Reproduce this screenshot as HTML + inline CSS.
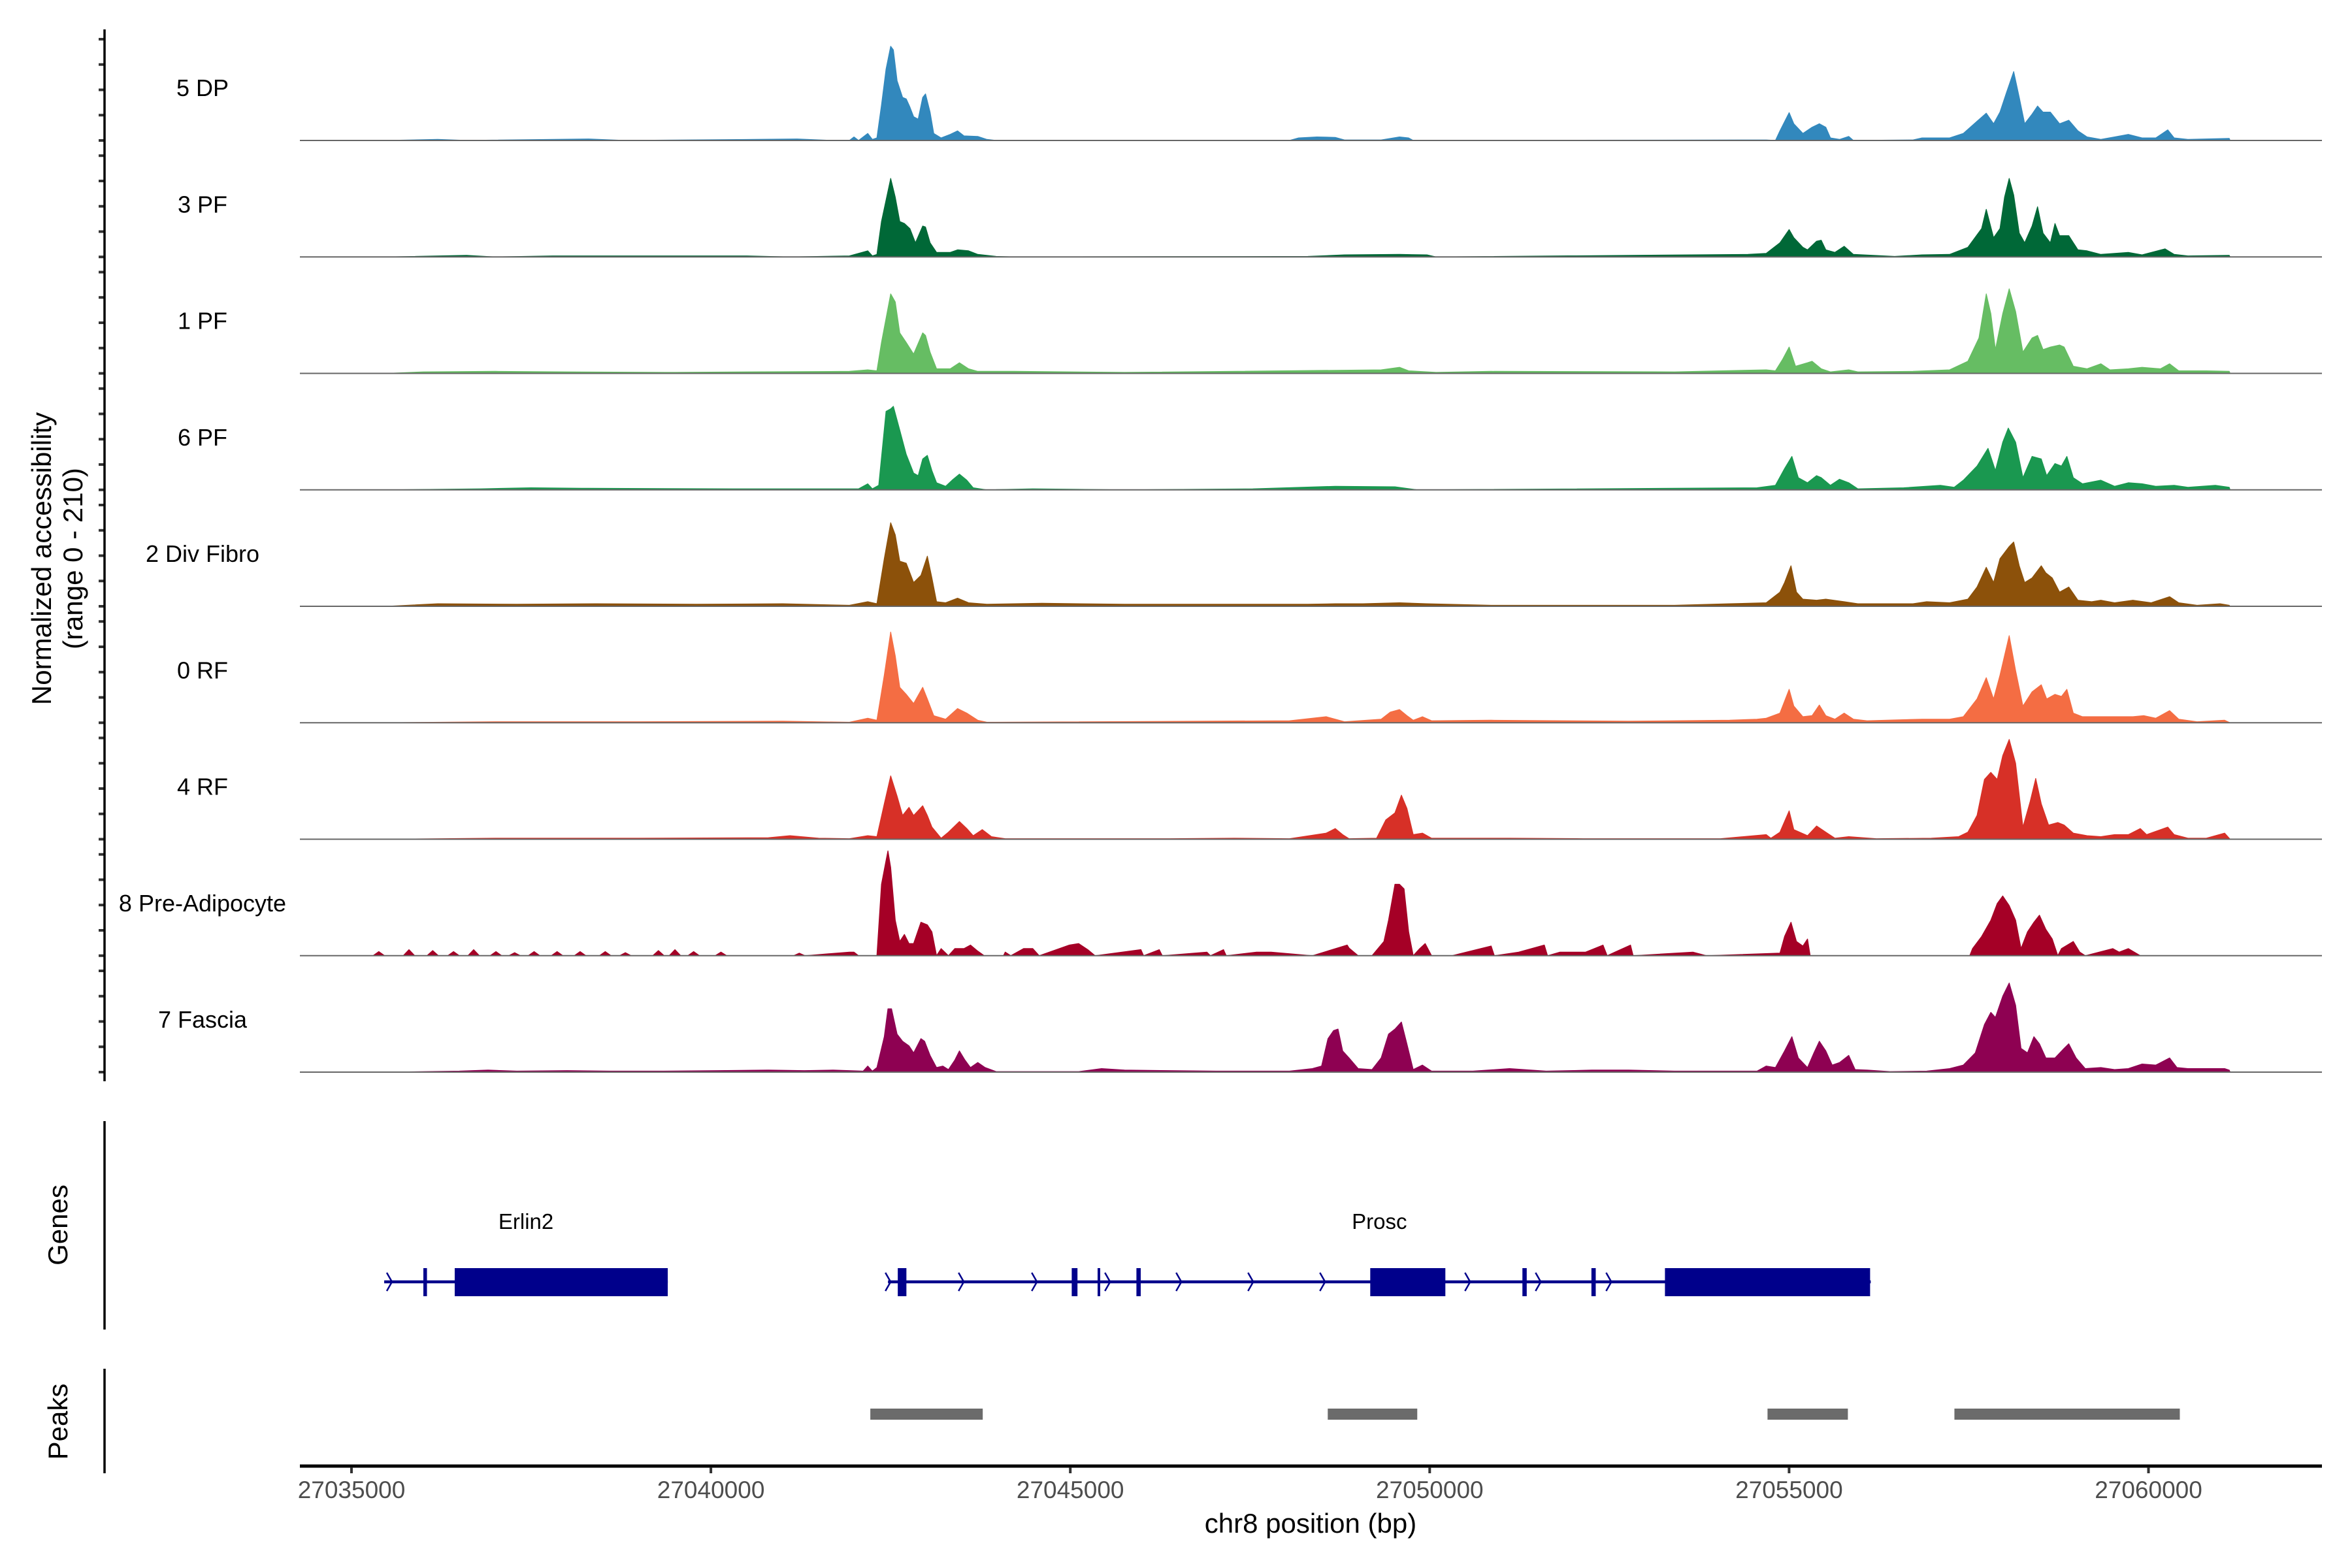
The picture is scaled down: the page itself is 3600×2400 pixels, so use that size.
<!DOCTYPE html>
<html><head><meta charset="utf-8"><style>
html,body{margin:0;padding:0;background:#fff;}
svg{display:block;font-family:"Liberation Sans",Arial,sans-serif;}
</style></head><body>
<svg id="chart" width="3600" height="2400" viewBox="0 0 3600 2400" xmlns="http://www.w3.org/2000/svg">
<g id="tracks"></g>
<g id="genes"></g>
<g id="peaks"></g>
<g id="axes"></g>
</svg>
<script>
const trackNames = ["5 DP","3 PF","1 PF","6 PF","2 Div Fibro","0 RF","4 RF","8 Pre-Adipocyte","7 Fascia"];
const yTicks = [0,50,100,150,200];
const xTicks = [27035000,27040000,27045000,27050000,27055000,27060000];

const pos_5DP = [27035500,27036200,27036600,27038300,27038800,27040600,27041200,27041700,27041927,27041991,27042055,27042182,27042246,27042310,27042373,27042437,27042501,27042539,27042590,27042667,27042718,27042769,27042820,27042884,27042947,27042986,27043049,27043100,27043203,27043330,27043432,27043521,27043713,27043840,27043968,27048049,27048177,27048432,27048687,27048815,27049325,27049580,27049707,27049771,27054682,27054810,27054873,27055001,27055065,27055192,27055320,27055421,27055511,27055575,27055702,27055830,27055894,27056723,27056850,27057233,27057424,27057615,27057743,27057845,27057934,27058023,27058125,27058202,27058278,27058380,27058457,27058533,27058635,27058763,27058891,27059018,27059146,27059337,27059528,27059719,27059911,27060102,27060268,27060357,27060549,27061123,27061135];
const val_5DP = [0,2,0,3,0,2,3,0,0,7,0,14,2,5,70,141,186,179,118,85,82,66,47,42,85,92,56,14,5,12,19,9,8,2,0,0,5,7,6,1,1,7,5,0,1,0,19,55,33,14,26,33,26,5,2,8,0,1,5,5,14,38,54,33,56,94,136,85,33,52,68,56,56,33,40,19,7,2,7,12,5,5,21,5,2,4,0];

const pos_3PF = [27035500,27036600,27037000,27037800,27040500,27041100,27041927,27042182,27042246,27042310,27042373,27042501,27042565,27042628,27042692,27042769,27042846,27042947,27042986,27043049,27043139,27043330,27043432,27043585,27043713,27043968,27044223,27048305,27048815,27049580,27049962,27050090,27054427,27054682,27054873,27055001,27055065,27055192,27055256,27055383,27055447,27055511,27055638,27055766,27055894,27056468,27056850,27057233,27057488,27057679,27057743,27057845,27057934,27057998,27058062,27058125,27058202,27058278,27058380,27058457,27058533,27058635,27058699,27058763,27058891,27059018,27059146,27059337,27059719,27059911,27060230,27060357,27060549,27061123,27061135];
const val_3PF = [0,3,0,2,2,0,2,12,2,5,70,155,118,70,66,56,28,61,59,28,9,9,14,12,5,1,0,1,4,5,4,0,5,7,28,54,38,19,14,31,33,14,9,21,5,1,4,5,19,56,94,38,56,118,155,122,47,28,61,99,47,28,66,42,42,14,12,5,9,4,16,5,2,3,0];

const pos_1PF = [27035500,27036000,27037000,27038000,27039500,27040500,27041927,27042182,27042310,27042373,27042501,27042565,27042628,27042718,27042820,27042947,27042986,27043049,27043139,27043330,27043458,27043585,27043713,27044223,27045754,27049325,27049580,27049707,27050090,27050855,27053406,27054682,27054810,27054911,27055001,27055090,27055256,27055320,27055447,27055575,27055830,27055957,27056723,27057233,27057488,27057641,27057743,27057807,27057870,27057972,27058062,27058151,27058253,27058380,27058457,27058533,27058635,27058763,27058827,27058954,27059146,27059337,27059465,27059719,27059911,27060166,27060294,27060421,27060804,27061123,27061135];
const val_1PF = [0,3,4,3,2,3,4,7,5,61,157,141,80,61,38,80,75,42,9,9,21,9,4,4,2,7,12,5,2,4,3,7,5,28,52,14,21,24,9,3,7,3,4,7,24,70,157,118,47,118,167,122,42,70,75,47,52,56,52,14,9,19,7,9,12,9,19,5,5,4,0];

const pos_6PF = [27035500,27036800,27037500,27038300,27040300,27041927,27042055,27042182,27042246,27042335,27042437,27042501,27042539,27042628,27042718,27042820,27042884,27042947,27043011,27043075,27043139,27043266,27043356,27043458,27043560,27043649,27043840,27044478,27045754,27047539,27048687,27049516,27049835,27054554,27054810,27054937,27055039,27055128,27055256,27055383,27055447,27055575,27055702,27055830,27055957,27056595,27057105,27057297,27057424,27057615,27057768,27057870,27057972,27058049,27058151,27058253,27058380,27058508,27058584,27058699,27058789,27058865,27058954,27059082,27059337,27059528,27059719,27059911,27060102,27060357,27060549,27060931,27061123,27061135];
const val_6PF = [0,2,4,3,2,2,2,12,2,9,155,160,165,118,70,33,28,61,68,38,14,7,19,31,19,4,0,2,0,2,7,6,0,4,9,42,66,24,14,28,24,9,21,14,2,4,9,5,19,47,82,38,94,122,94,24,66,61,28,52,47,66,24,12,19,7,14,12,7,9,5,9,5,0];

const pos_DivFibro = [27035500,27036200,27037300,27038400,27039800,27041000,27041927,27042182,27042310,27042412,27042501,27042565,27042628,27042718,27042820,27042922,27043011,27043075,27043139,27043266,27043432,27043585,27043840,27044605,27045754,27048305,27048687,27049070,27049580,27049962,27050855,27053406,27054172,27054682,27054873,27054937,27055026,27055103,27055192,27055383,27055511,27055766,27055957,27056723,27056914,27057233,27057488,27057615,27057743,27057845,27057934,27058062,27058125,27058202,27058278,27058380,27058508,27058572,27058661,27058763,27058891,27059018,27059210,27059337,27059528,27059783,27060038,27060294,27060421,27060676,27060995,27061123,27061135];
const val_DivFibro = [0,5,4,5,4,5,2,9,5,94,165,141,89,85,47,61,99,56,9,7,16,7,4,6,4,4,5,5,7,5,2,2,5,7,28,47,80,28,14,12,14,9,5,5,9,7,14,38,77,47,94,118,127,80,47,56,80,66,56,28,38,12,9,12,7,12,7,19,7,2,5,2,0];

const pos_0RF = [27035500,27037000,27039000,27041000,27041927,27042182,27042310,27042412,27042501,27042565,27042628,27042718,27042820,27042947,27043011,27043100,27043266,27043432,27043560,27043713,27043840,27048049,27048560,27048687,27048815,27049325,27049452,27049580,27049683,27049771,27049899,27050026,27050855,27052769,27054172,27054554,27054682,27054873,27055001,27055065,27055192,27055320,27055421,27055511,27055638,27055766,27055894,27056085,27056850,27057233,27057424,27057615,27057743,27057845,27057934,27058062,27058151,27058253,27058380,27058508,27058584,27058699,27058789,27058865,27058954,27059082,27059401,27059783,27059937,27060102,27060294,27060421,27060676,27061059,27061135];
const val_0RF = [0,2,2,3,1,9,5,94,179,132,70,56,38,70,47,14,7,28,19,5,1,4,12,7,2,7,21,26,14,5,12,4,5,3,5,7,9,19,66,33,12,14,35,14,7,19,7,4,7,7,12,47,89,47,94,172,103,33,61,75,47,56,52,66,19,12,12,12,14,9,24,7,2,5,0];

const pos_4RF = [27035500,27037000,27039000,27040800,27041100,27041500,27041927,27042182,27042310,27042412,27042501,27042590,27042667,27042756,27042820,27042947,27043011,27043075,27043203,27043305,27043458,27043560,27043649,27043776,27043904,27044095,27046391,27047284,27048049,27048560,27048687,27048789,27048878,27049261,27049389,27049516,27049606,27049683,27049771,27049899,27050026,27050855,27051111,27052131,27054044,27054682,27054746,27054873,27055001,27055065,27055256,27055383,27055511,27055638,27055830,27056213,27056978,27057360,27057488,27057615,27057718,27057807,27057896,27057972,27058062,27058151,27058253,27058355,27058431,27058508,27058610,27058738,27058827,27058954,27059146,27059337,27059528,27059719,27059886,27059975,27060268,27060357,27060549,27060804,27061059,27061123,27061135];
const val_4RF = [0,2,2,3,7,2,1,7,5,70,125,85,47,63,47,66,47,24,2,14,35,21,7,19,5,1,1,2,1,12,21,9,1,2,38,52,87,61,9,12,2,2,2,1,1,9,2,14,56,19,7,26,14,2,5,1,2,5,14,47,118,132,118,165,197,150,24,75,120,70,28,33,28,12,7,5,9,9,21,9,24,9,2,2,12,2,0];

const pos_PreAdip = [27035300,27035380,27035460,27035720,27035800,27035880,27036050,27036130,27036210,27036340,27036420,27036500,27036620,27036700,27036780,27036930,27037010,27037090,27037190,27037270,27037350,27037460,27037540,27037620,27037780,27037860,27037940,27038100,27038180,27038260,27038450,27038530,27038610,27038730,27038810,27038890,27039190,27039270,27039350,27039420,27039500,27039580,27039680,27039760,27039840,27040060,27040140,27040220,27041150,27041230,27041310,27041927,27041991,27042055,27042310,27042373,27042437,27042463,27042501,27042565,27042628,27042692,27042756,27042820,27042922,27043011,27043075,27043139,27043203,27043305,27043394,27043521,27043611,27043713,27043802,27044070,27044095,27044172,27044350,27044478,27044567,27044988,27045116,27045243,27045345,27045983,27046020,27046238,27046280,27046901,27046950,27047131,27047170,27047590,27047794,27048368,27048853,27048878,27049006,27049197,27049363,27049427,27049516,27049580,27049644,27049707,27049771,27049861,27049937,27050026,27050307,27050855,27050900,27051238,27051595,27051640,27051812,27052169,27052411,27052470,27052577,27052794,27052830,27053662,27053853,27054873,27054937,27055026,27055103,27055192,27055256,27055294,27057513,27057552,27057679,27057807,27057896,27057972,27058062,27058151,27058227,27058317,27058406,27058483,27058572,27058661,27058738,27058789,27058954,27059044,27059120,27059503,27059592,27059719,27059886,27060013];
const val_PreAdip = [0,8,0,0,12,0,0,10,0,0,8,0,0,12,0,0,8,0,0,6,0,0,8,0,0,8,0,0,8,0,0,8,0,0,6,0,0,10,0,0,12,0,0,8,0,0,7,0,0,5,0,7,7,0,0,141,188,207,174,70,28,42,24,24,66,61,47,0,14,0,14,14,21,9,0,0,7,0,14,14,0,21,24,12,0,12,0,12,0,7,0,12,0,7,7,0,21,15,0,0,28,70,141,141,132,47,0,14,24,0,0,19,0,7,21,0,7,7,21,0,7,21,0,7,0,5,38,66,28,19,33,0,0,14,38,70,103,118,99,70,14,47,66,80,52,33,0,14,28,7,0,14,7,14,0];

const pos_Fascia = [27035500,27036500,27036900,27037300,27038000,27038600,27039300,27040100,27040800,27041300,27041700,27042118,27042182,27042246,27042310,27042412,27042463,27042513,27042590,27042667,27042756,27042820,27042922,27042973,27043049,27043139,27043228,27043305,27043394,27043458,27043534,27043611,27043713,27043815,27043968,27044605,27045116,27045435,27045754,27047029,27048049,27048368,27048496,27048585,27048662,27048725,27048789,27048878,27049006,27049197,27049325,27049427,27049516,27049606,27049683,27049771,27049899,27050026,27050600,27051111,27051621,27052258,27052769,27053406,27054554,27054682,27054810,27054937,27055039,27055128,27055256,27055345,27055421,27055511,27055600,27055702,27055830,27055919,27056085,27056404,27056914,27057233,27057424,27057590,27057718,27057807,27057870,27057972,27058062,27058151,27058227,27058317,27058406,27058483,27058572,27058699,27058827,27058891,27058993,27059120,27059337,27059528,27059719,27059911,27060102,27060294,27060396,27060549,27060804,27061059,27061123,27061135];
const val_Fascia = [0,2,4,2,3,2,2,3,4,3,4,2,12,2,9,70,125,125,75,61,52,38,66,61,33,9,12,5,24,42,24,9,19,9,1,1,1,7,4,2,2,7,12,66,82,85,42,28,7,5,28,75,85,99,56,5,14,2,2,7,2,4,4,2,2,12,9,42,70,28,9,38,61,42,14,19,33,5,4,1,2,7,14,38,94,118,108,150,176,132,47,38,70,56,28,28,47,56,28,7,9,5,7,16,14,28,9,7,7,7,4,0];

const trackPos = [pos_5DP,pos_3PF,pos_1PF,pos_6PF,pos_DivFibro,pos_0RF,pos_4RF,pos_PreAdip,pos_Fascia];
const trackVal = [val_5DP,val_3PF,val_1PF,val_6PF,val_DivFibro,val_0RF,val_4RF,val_PreAdip,val_Fascia];

const geneNames = ["Erlin2","Prosc"];
const geneStart = [27035455,27042464];
const geneEnd = [27039400,27056136];
const exonStart = [27036000,27036436,27042600,27045020,27045380,27045920,27049173,27051290,27052250,27053273];
const exonEnd = [27036050,27039400,27042720,27045100,27045410,27045980,27050218,27051350,27052310,27056127];
const strandArrows = [27035527,27042464,27043482,27044500,27045518,27046509,27047509,27048509,27050527,27051509,27052491];

const peakStart = [27042218,27048582,27054700,27057300];
const peakEnd = [27043782,27049827,27055818,27060436];
</script>
<script>
const NS="http://www.w3.org/2000/svg";
const colors=["#3288bd","#006837","#66bd63","#1a9850","#8c510a","#f46d43","#d73027","#a50026","#8e0152"];
function xs(bp){return 538+(bp-27035000)*0.11002;}
function base(i){return 215+178.25*i;}
function ys(v,i){return base(i)-v*0.775;}
function mk(tag,attrs,parent){const e=document.createElementNS(NS,tag);for(const k in attrs)e.setAttribute(k,attrs[k]);parent.appendChild(e);return e;}
const T=document.getElementById('tracks'),G=document.getElementById('genes'),P=document.getElementById('peaks'),A=document.getElementById('axes');

trackNames.forEach((nm,i)=>{
  const g=mk('g',{},T);
  
  
  const ps=trackPos[i],vs=trackVal[i];
  let d='M'+xs(ps[0]).toFixed(1)+','+base(i).toFixed(1);
  for(let k=0;k<ps.length;k++)d+='L'+xs(ps[k]).toFixed(1)+','+ys(vs[k],i).toFixed(1);
  d+='L'+xs(ps[ps.length-1]).toFixed(1)+','+base(i).toFixed(1)+'Z';
  const a=mk('path',{d:d,fill:colors[i],stroke:colors[i],'stroke-width':1.2,'stroke-linejoin':'round'},g);
  
  
  const bl=mk('line',{x1:459,x2:3554,y1:base(i),y2:base(i),stroke:'#666','stroke-width':2},g);
  
  
  const t=mk('text',{x:310,y:base(i)-68,'font-size':36,'text-anchor':'middle',fill:'#000'},g);
  t.textContent=nm;
  
  
  yTicks.forEach(v=>{
    const tk=mk('line',{x1:151,x2:160,y1:ys(v,i),y2:ys(v,i),stroke:'#333','stroke-width':4},A);
    
    
  });
});

const GY=1962;
geneNames.forEach((nm,i)=>{
  const l=mk('line',{x1:xs(geneStart[i]),x2:xs(geneEnd[i]),y1:GY,y2:GY,stroke:'#00008b','stroke-width':4.5},G);
  
  
  const t=mk('text',{x:xs((geneStart[i]+geneEnd[i])/2),y:1881,'font-size':33,'text-anchor':'middle',fill:'#000'},G);
  t.textContent=nm;
  
  
});
exonStart.forEach((s,k)=>{
  const w=Math.max(4,xs(exonEnd[k])-xs(s));
  const r=mk('rect',{x:xs(s),y:1941,width:w,height:43,fill:'#00008b'},G);
  
  
});
strandArrows.forEach(b=>{
  const x=xs(b);
  const p=mk('path',{d:'M'+(x-4)+','+(GY-14)+'L'+(x+4)+','+GY+'L'+(x-4)+','+(GY+14),fill:'none',stroke:'#00008b','stroke-width':2.5},G);
  
  
});
peakStart.forEach((s,k)=>{
  const r=mk('rect',{x:xs(s),y:2156,width:xs(peakEnd[k])-xs(s),height:17,fill:'#6b6b6b'},P);
  
  
});

function ln(x1,y1,x2,y2,w,c,name){const e=mk('line',{x1:x1,y1:y1,x2:x2,y2:y2,stroke:c,'stroke-width':w},A);return e;}
ln(160,45,160,1655,3.5,'#000','y-axis-line-tracks');
ln(160,1716,160,2035,3.5,'#000','y-axis-line-genes');
ln(160,2095,160,2255,3.5,'#000','y-axis-line-peaks');
ln(459,2244,3554,2244,5,'#000','x-axis-line');
xTicks.forEach(v=>{
  ln(xs(v),2246,xs(v),2255,4,'#333','x-tick');
  const t=mk('text',{x:xs(v),y:2293,'font-size':37,'text-anchor':'middle',fill:'#4d4d4d'},A);
  t.textContent=String(v);
  
  
});
function txt(s,x,y,fs,rot,name){const t=mk('text',{x:x,y:y,'font-size':fs,'text-anchor':'middle',fill:'#000'},A);if(rot)t.setAttribute('transform','rotate(-90 '+x+' '+y+')');t.textContent=s;return t;}
txt('chr8 position (bp)',2006,2346,42,false,'x-axis-title');
txt('Normalized accessibility',78,855,42,true,'y-axis-title');
txt('(range 0 - 210)',126,855,42,true,'y-axis-subtitle');
txt('Genes',103,1875,42,true,'genes-axis-title');
txt('Peaks',103,2176,42,true,'peaks-axis-title');
</script>
</body></html>
